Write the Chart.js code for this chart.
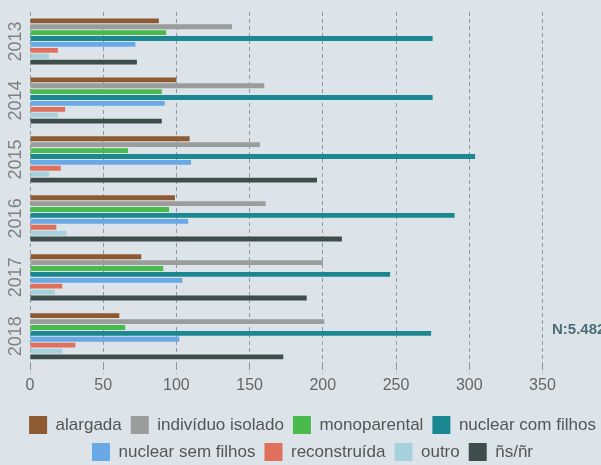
<!DOCTYPE html>
<html>
<head>
<meta charset="utf-8">
<script src="https://cdn.jsdelivr.net/npm/chart.js@4"></script>
<style>
  html, body { margin: 0; padding: 0; background: #dce4e9; }
  #wrap { width: 601px; height: 465px; }
</style>
</head>
<body>
<div id="wrap"><canvas id="familyChart"></canvas></div>
<script>
// years on the y axis
const years = ['2013', '2014', '2015', '2016', '2017', '2018'];

// one array per family type
const alargada = [88, 100, 109, 99, 76, 61];
const individuoIsolado = [138, 160, 157, 161, 200, 201];
const monoparental = [93, 90, 67, 95, 91, 65];
const nuclearComFilhos = [275, 275, 304, 290, 246, 274];
const nuclearSemFilhos = [72, 92, 110, 108, 104, 102];
const reconstruida = [19, 24, 21, 18, 22, 31];
const outro = [13, 19, 13, 25, 17, 22];
const nsNr = [73, 90, 196, 213, 189, 173];

const xTicks = [0, 50, 100, 150, 200, 250, 300, 350];

const ctx = document.getElementById('familyChart').getContext('2d');

const totalLabel = {
    id: 'totalLabel',
    afterLayout(chart) {
        // legend sits a bit right of centre in the original
        chart.legend.left += 12;
        chart.legend.right += 12;
    },
    afterDraw(chart) {
        const c = chart.ctx;
        c.save();
        c.font = 'bold 15px "Liberation Sans", Arial, sans-serif';
        c.fillStyle = '#4d6e74';
        c.textAlign = 'left';
        c.textBaseline = 'middle';
        c.fillText('N:5.482', 552, 330);
        c.restore();
    }
};

function makeSet(label, data, color) {
    return {
        label: label,
        data: data,
        backgroundColor: color,
        borderColor: color,
        borderWidth: 0
    };
}

const chart = new Chart(ctx, {
    type: 'bar',
    data: {
        labels: years,
        datasets: [
            makeSet('alargada', alargada, '#8d5a32'),
            makeSet('indivíduo isolado', individuoIsolado, '#9b9c9c'),
            makeSet('monoparental', monoparental, '#4bba4c'),
            makeSet('nuclear com filhos', nuclearComFilhos, '#1b8790'),
            makeSet('nuclear sem filhos', nuclearSemFilhos, '#68a9e6'),
            makeSet('reconstruída', reconstruida, '#e0705c'),
            makeSet('outro', outro, '#a6d0db'),
            makeSet('ñs/ñr', nsNr, '#3e4c4c')
        ]
    },
    options: {
        indexAxis: 'y',
        responsive: true,
        maintainAspectRatio: false,
        animation: false,
        layout: { padding: { top: 12, right: 0, left: 0, bottom: -6 } },
        datasets: {
            bar: { categoryPercentage: 0.8, barPercentage: 0.82 }
        },
        scales: {
            x: {
                min: 0,
                max: 390,
                afterBuildTicks(axis) {
                    axis.ticks = xTicks.map(v => ({ value: v }));
                },
                afterFit(axis) {
                    axis.height += 10;
                },
                border: { display: false, dash: [4, 3] },
                grid: {
                    color: '#8f999e',
                    lineWidth: 1,
                    tickLength: 8,
                    tickBorderDash: [4, 3]
                },
                ticks: {
                    color: '#666',
                    font: { family: '"Liberation Sans", Arial, sans-serif', size: 16 },
                    padding: 2
                }
            },
            y: {
                afterFit(axis) {
                    axis.width = 30;
                },
                border: { display: false },
                grid: { display: false, drawTicks: false },
                ticks: {
                    color: '#808080',
                    minRotation: 90,
                    maxRotation: 90,
                    crossAlign: 'center',
                    font: { family: '"Liberation Sans", Arial, sans-serif', size: 18 },
                    padding: -6
                }
            }
        },
        plugins: {
            legend: {
                position: 'bottom',
                labels: {
                    color: '#555',
                    boxWidth: 18,
                    boxHeight: 18,
                    padding: 9,
                    font: { family: '"Liberation Sans", Arial, sans-serif', size: 17 }
                }
            },
            tooltip: { enabled: false }
        }
    },
    plugins: [totalLabel]
});
</script>
</body>
</html>
